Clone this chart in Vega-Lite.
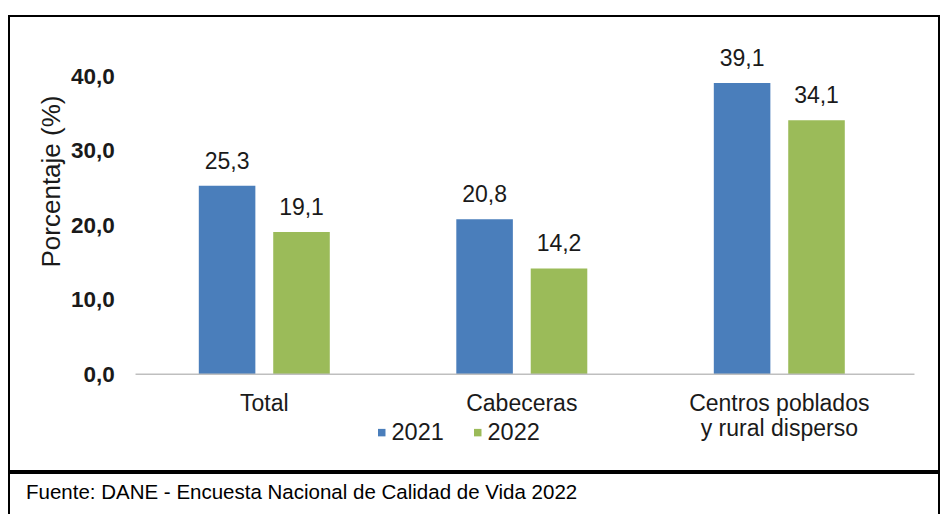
{
  "$schema": "https://vega.github.io/schema/vega-lite/v6.json",
  "padding": {"left": 8, "top": 15, "right": 0, "bottom": 0},
  "background": "white",
  "spacing": 0,
  "config": {
    "view": {"stroke": "#000000", "strokeWidth": 2},
    "font": "Liberation Sans",
    "locale": {"number": {"decimal": ",", "thousands": ".", "grouping": [3], "currency": ["$", ""]}}
  },
  "vconcat": [
    {
      "width": 930,
      "height": 455,
      "data": {"values": [
        {"zona": "Total", "anio": "2021", "valor": 25.3},
        {"zona": "Total", "anio": "2022", "valor": 19.1},
        {"zona": "Cabeceras", "anio": "2021", "valor": 20.8},
        {"zona": "Cabeceras", "anio": "2022", "valor": 14.2},
        {"zona": "Centros poblados y rural disperso", "anio": "2021", "valor": 39.1},
        {"zona": "Centros poblados y rural disperso", "anio": "2022", "valor": 34.1}
      ]},
      "layer": [
        {
          "mark": {"type": "bar"},
          "encoding": {
            "x": {
              "field": "zona", "type": "nominal", "sort": null,
              "scale": {"paddingInner": 0, "paddingOuter": 0.3058, "align": 0.8035},
              "axis": {
                "title": null, "domain": false, "ticks": false, "grid": false,
                "labelPadding": 18, "offset": -96.7, "labelFontSize": 23,
                "labelColor": "#1a1a1a", "labelAngle": 0, "labelLineHeight": 25,
                "labelBaseline": "top", "labelLimit": 0,
                "labelExpr": "datum.value == 'Centros poblados y rural disperso' ? ['Centros poblados', 'y rural disperso'] : datum.value"
              }
            },
            "xOffset": {"field": "anio", "type": "nominal", "scale": {"paddingInner": 0.24, "paddingOuter": 0.85}},
            "y": {
              "field": "valor", "type": "quantitative", "stack": null,
              "scale": {"domain": [-12.98, 48.09], "nice": false, "zero": false},
              "axis": {
                "values": [0, 10, 20, 30, 40], "format": ".1f",
                "domain": false, "ticks": false, "tickSize": 0, "grid": false,
                "labelPadding": 0, "offset": -105.3,
                "labelFontSize": 22.5, "labelFontWeight": "bold", "labelColor": "#1a1a1a",
                "title": "Porcentaje (%)", "titleFontSize": 26, "titleFontWeight": "normal",
                "titleColor": "#1a1a1a", "titleX": -63, "titleY": 165, "titleAngle": -90,
                "titleAlign": "center", "titleBaseline": "middle"
              }
            },
            "color": {
              "field": "anio", "type": "nominal",
              "scale": {"range": ["#4A7EBB", "#9BBB59"]},
              "legend": {
                "title": null, "orient": "none", "legendX": 361, "legendY": 404.5,
                "direction": "horizontal", "symbolType": "square", "symbolSize": 56,
                "labelFontSize": 23.5, "labelColor": "#1a1a1a", "columnPadding": 22,
                "labelOffset": -2, "padding": 0, "symbolStrokeWidth": 0, "symbolOpacity": 1
              }
            }
          }
        },
        {
          "mark": {"type": "text", "baseline": "alphabetic", "dy": -17, "fontSize": 23, "color": "#1a1a1a"},
          "encoding": {
            "x": {"field": "zona", "type": "nominal", "sort": null},
            "xOffset": {"field": "anio", "type": "nominal"},
            "y": {"field": "valor", "type": "quantitative", "stack": null},
            "text": {"field": "valor", "type": "quantitative", "format": ".1f"}
          }
        },
        {
          "data": {"values": [{}]},
          "mark": {"type": "rule", "color": "#bfbfbf", "strokeWidth": 1.5},
          "encoding": {
            "x": {"datum": "Total", "bandPosition": 0},
            "x2": {"datum": "Centros poblados y rural disperso", "bandPosition": 1.025},
            "y": {"datum": 0}
          }
        }
      ]
    },
    {
      "width": 930,
      "height": 60,
      "data": {"values": [{"texto": "Fuente: DANE - Encuesta Nacional de Calidad de Vida 2022"}]},
      "mark": {"type": "text", "align": "left", "baseline": "middle", "dx": 17, "fontSize": 20.5, "font": "Liberation Sans", "color": "#000000"},
      "encoding": {
        "text": {"field": "texto"},
        "x": {"datum": 0, "type": "quantitative", "scale": {"domain": [0, 1]}, "axis": null},
        "y": {"datum": 0.66, "type": "quantitative", "scale": {"domain": [0, 1]}, "axis": null}
      }
    }
  ]
}
